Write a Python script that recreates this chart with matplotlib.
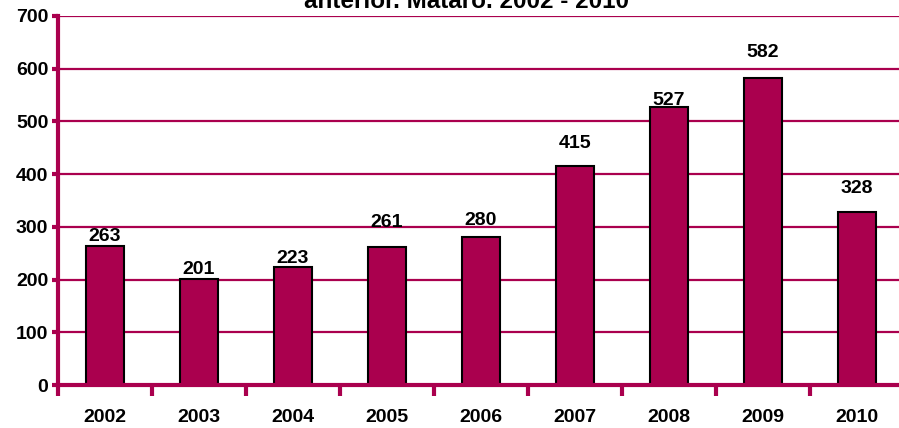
import numpy as np
import matplotlib.pyplot as plt

plt.rcParams['font.family'] = ['Liberation Sans', 'DejaVu Sans']

# ---------------------------------------------------------------------------
# Data
# ---------------------------------------------------------------------------
years = ["2002", "2003", "2004", "2005", "2006", "2007", "2008", "2009", "2010"]
values = [263, 201, 223, 261, 280, 415, 527, 582, 328]
# label lift above bar top (data units), as placed in the original
label_lift = [19, 19, 17, 47, 32, 44, 13, 49, 44]

maroon = "#AA004E"
fs = 14

fig = plt.figure(figsize=(8.99, 4.28), dpi=100)
ax = fig.add_axes([58 / 899, 1 - 385 / 428, (904 - 58) / 899, (385 - 16) / 428])

x = np.arange(len(years))
ax.bar(x, values, width=0.4, color=maroon, edgecolor="black", linewidth=1.5, zorder=3)

for xi, v, lift in zip(x, values, label_lift):
    ax.text(xi, v + lift, str(v), ha="center", va="center",
            fontsize=fs, fontweight="bold", zorder=4)

ax.set_xlim(-0.5, len(years) - 0.5)
ax.set_ylim(0, 700)
ax.set_yticks(range(0, 701, 100))
ax.yaxis.grid(True, color=maroon, linewidth=1.6, zorder=1)

# category labels centered, ticks on the slot boundaries
ax.set_xticks(x)
ax.set_xticklabels(years, fontsize=fs, fontweight="bold")
ax.tick_params(axis="x", which="major", length=0, pad=17)
ax.set_xticks(np.arange(-0.5, len(years)), minor=True)
ax.tick_params(axis="x", which="minor", length=8, width=3, color=maroon, direction="out")
ax.tick_params(axis="y", length=4, width=3, color=maroon, labelsize=fs, pad=3)
for lab in ax.get_yticklabels():
    lab.set_fontweight("bold")

for side in ("top", "right"):
    ax.spines[side].set_visible(False)
for side in ("left", "bottom"):
    ax.spines[side].set_color(maroon)
    ax.spines[side].set_linewidth(3)
    ax.spines[side].set_zorder(5)

# title: only its last line is visible, the rest falls above the image
fig.text(467 / 899, 1 - 8 / 428,
         "Evolución del número de casos respecto al año\nanterior. Mataró. 2002 - 2010",
         ha="center", va="baseline", fontsize=17.5, fontweight="bold",
         multialignment="center")

fig.savefig("out.png", dpi=100)
